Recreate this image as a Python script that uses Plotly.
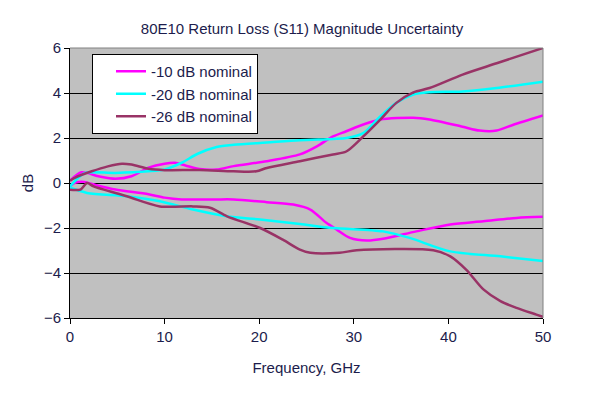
import plotly.graph_objects as go

# ---- data ----
f_m10_up = [0, 1.2, 3.0, 4.8, 6.5, 8.3, 10, 11.1, 12.2, 13.7, 15.5, 17.3, 20.8, 24.3, 26.1, 27.8, 29.2, 31, 32.8, 36.3, 38, 41.5, 43.3, 45.1, 46.8, 50]
v_m10_up = [0.1, 0.48, 0.3, 0.19, 0.3, 0.68, 0.86, 0.9, 0.78, 0.62, 0.6, 0.75, 0.97, 1.27, 1.63, 2.07, 2.3, 2.6, 2.82, 2.9, 2.82, 2.5, 2.33, 2.33, 2.58, 3.0]
f_m10_lo = [0, 0.6, 1.5, 3.0, 4.8, 8.3, 10, 11.8, 15.3, 17.3, 20.8, 23.6, 25.4, 27.1, 28.2, 29.6, 31.4, 33.1, 36.6, 40.2, 43.7, 47.2, 50]
v_m10_lo = [-0.14, 0.02, 0.05, -0.12, -0.29, -0.5, -0.65, -0.73, -0.73, -0.73, -0.85, -0.96, -1.18, -1.77, -2.07, -2.44, -2.56, -2.48, -2.15, -1.84, -1.7, -1.55, -1.5]

f_m20_up = [0, 0.8, 1.6, 4.8, 8.3, 10, 11.8, 13.5, 15.5, 17.3, 20.8, 24.3, 27.8, 29.2, 31, 32.8, 34.5, 36.3, 38, 41.5, 45.1, 50]
v_m20_up = [-0.15, 0.2, 0.45, 0.45, 0.52, 0.6, 0.9, 1.3, 1.6, 1.7, 1.8, 1.9, 1.96, 2.0, 2.22, 2.96, 3.56, 3.93, 4.03, 4.07, 4.22, 4.5]
f_m20_lo = [0, 1.8, 6, 9.5, 13, 16.6, 20.1, 24.3, 27.8, 33.1, 35.9, 40.2, 45.5, 50]
v_m20_lo = [-0.2, -0.44, -0.59, -0.81, -1.18, -1.48, -1.62, -1.82, -2.0, -2.15, -2.44, -3.04, -3.26, -3.47]

f_m26_up = [0, 0.5, 2.3, 4.0, 5.5, 6.5, 8.3, 10, 13.7, 17.3, 19.7, 20.8, 24.3, 27.8, 29.2, 31, 32.8, 34.5, 36.3, 38, 41.5, 45.1, 50]
v_m26_up = [0.1, 0.23, 0.52, 0.74, 0.86, 0.82, 0.63, 0.57, 0.58, 0.52, 0.52, 0.67, 0.97, 1.27, 1.4, 2.07, 2.82, 3.56, 4.03, 4.22, 4.82, 5.32, 6.0]
f_m26_lo = [0, 1.1, 1.8, 2.5, 6, 9.5, 13, 14.8, 16.6, 20.1, 22.5, 24.3, 25.4, 28.5, 30.3, 38.4, 40.2, 41.9, 43.7, 45.5, 47.2, 49.3, 50]
v_m26_lo = [-0.3, -0.29, 0.0, -0.15, -0.59, -1.04, -1.04, -1.1, -1.48, -2.0, -2.52, -2.96, -3.1, -3.1, -2.99, -2.99, -3.26, -3.86, -4.73, -5.25, -5.55, -5.85, -5.95]

names = ["-10 dB nominal", "-20 dB nominal", "-26 dB nominal"]
colors = ["#FF00FF", "#00FFFF", "#993366"]

x_ticks = [0, 10, 20, 30, 40, 50]
y_ticks = [-6, -4, -2, 0, 2, 4, 6]

TXT = "#1c1c4c"
FONT = "Liberation Sans, Arial, sans-serif"

fig = go.Figure()
series = [
    (f_m10_up, v_m10_up, f_m10_lo, v_m10_lo),
    (f_m20_up, v_m20_up, f_m20_lo, v_m20_lo),
    (f_m26_up, v_m26_up, f_m26_lo, v_m26_lo),
]
for (fu, vu, fl, vl), name, col in zip(series, names, colors):
    fig.add_trace(go.Scatter(x=fu, y=vu, mode="lines", name=name, legendgroup=name,
                             line=dict(color=col, width=2.5, shape="spline", smoothing=0.8)))
    fig.add_trace(go.Scatter(x=fl, y=vl, mode="lines", name=name, legendgroup=name, showlegend=False,
                             line=dict(color=col, width=2.5, shape="spline", smoothing=0.8)))

# page has an 8px body margin, so the figure is offset by 8px
fig.update_layout(
    width=600, height=396,
    margin=dict(l=62, r=65, t=40, b=86),
    paper_bgcolor="white", plot_bgcolor="#C0C0C0",
    font=dict(family=FONT, size=15, color=TXT),
    title=dict(text="80E10 Return Loss (S11) Magnitude Uncertainty", x=(302 - 8) / 600, xanchor="center",
               y=1 - 21 / 396, yanchor="middle", font=dict(size=15, color=TXT)),
    showlegend=True,
    legend=dict(x=(92 - 70) / 473, y=(318 - 54) / 270, xanchor="left", yanchor="top",
                bgcolor="white", bordercolor="black", borderwidth=1, tracegroupgap=0,
                font=dict(size=15, color=TXT), indentation=18),
    xaxis=dict(range=[0, 50], tickvals=x_ticks, showgrid=False, zeroline=False,
               showline=True, linecolor="black", linewidth=1, mirror=False,
               ticks="outside", ticklen=5, tickcolor="black",
               title=dict(text="Frequency, GHz", font=dict(size=15, color=TXT), standoff=18)),
    yaxis=dict(range=[-6, 6], tickvals=y_ticks, showgrid=True, gridcolor="black", gridwidth=1,
               zeroline=False, showline=True, linecolor="black", linewidth=1,
               ticks="outside", ticklen=5, tickcolor="black",
               title=dict(text="dB", font=dict(size=15, color=TXT), standoff=6)),
)
# grey frame on top and right of plot area
fig.add_shape(type="line", xref="paper", yref="paper", x0=0, x1=1, y0=1, y1=1,
              line=dict(color="#808080", width=1))
fig.add_shape(type="line", xref="paper", yref="paper", x0=1, x1=1, y0=0, y1=1,
              line=dict(color="#808080", width=1))

fig.write_html("out.html")
